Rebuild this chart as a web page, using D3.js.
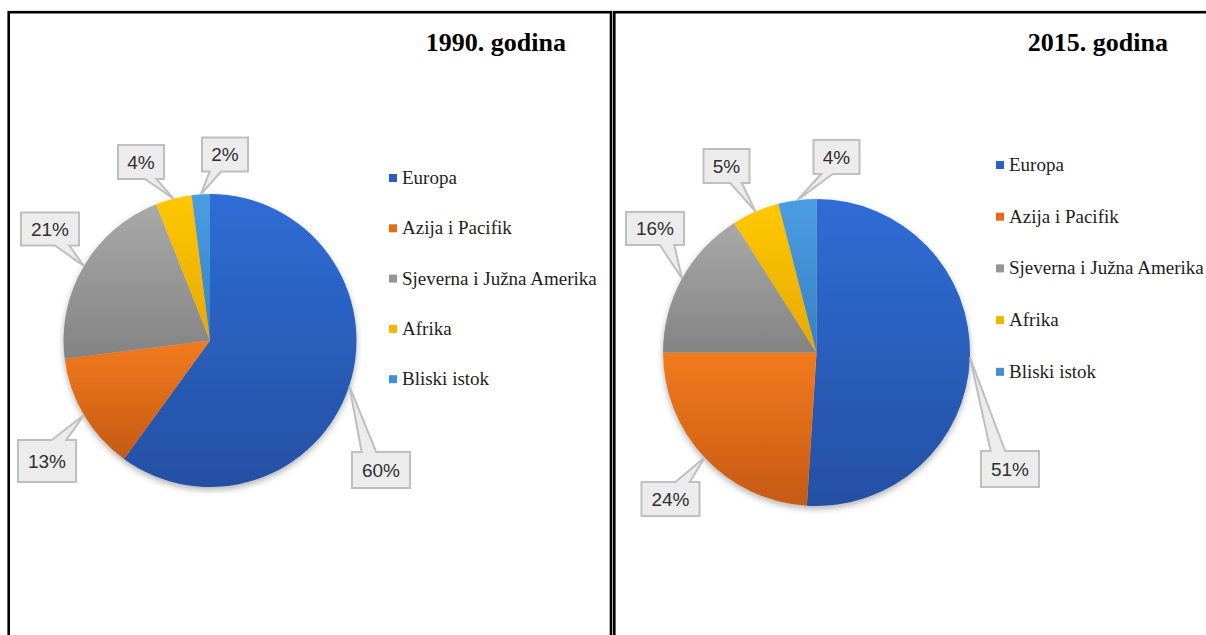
<!DOCTYPE html>
<meta charset="utf-8">
<style>
  body { margin: 0; background: #fff; }
</style>
<body>

<!-- Load d3.js -->
<script src="https://d3js.org/d3.v7.min.js"></script>

<!-- Create a div where the graph will take place -->
<div id="my_dataviz"></div>

<script>

// Data
var categories = ["Europa", "Azija i Pacifik", "Sjeverna i Južna Amerika", "Afrika", "Bliski istok"];
var values1990 = [60, 13, 21, 4, 2];
var values2015 = [51, 24, 16, 5, 4];
var titles = ["1990. godina", "2015. godina"];

// Slice colours: top and bottom of the gradient, plus a flat one for the legend
var colorTop = ["#2f6dd5", "#f27a1f", "#a9a9a9", "#ffc800", "#4a9de3"];
var colorBottom = ["#2450a3", "#c65a12", "#838383", "#e6a800", "#3a80c2"];
var colorFlat = ["#2a5fc0", "#e46c1a", "#969696", "#f2b800", "#4190d6"];

// Layout of the two panels (positions only, no data)
var panels = [
  { values: values1990, title: titles[0], box: [8.7, 12.2, 602.3],
    cx: 210, cy: 340.5, r: 146.5, titleX: 566, titleY: 51,
    legendX: 389, legendY: 178, legendStep: 50.3,
    callouts: [[171, 129.5, 36], [-163, 120.5, 42], [-160, -111.5, 33], [-69, -178.5, 34], [15, -186, 34]] },
  { values: values2015, title: titles[1], box: [614.3, 12.2, 700],
    cx: 816.5, cy: 352.5, r: 153.5, titleX: 1168, titleY: 51,
    legendX: 996, legendY: 165, legendStep: 51.7,
    callouts: [[193.5, 116.5, 36], [-146, 146.5, 34], [-161.5, -124, 33], [-90, -186.5, 34], [20, -195.5, 34]] }
];

var width = 1206, height = 635;

var svg = d3.select("#my_dataviz")
  .append("svg")
    .attr("width", width)
    .attr("height", height);

var defs = svg.append("defs");

// one vertical gradient per colour, it follows each slice's own bounding box
colorTop.forEach(function(c, i) {
  var g = defs.append("linearGradient")
    .attr("id", "grad" + i)
    .attr("x1", 0).attr("y1", 0).attr("x2", 0).attr("y2", 1);
  g.append("stop").attr("offset", "0%").attr("stop-color", c);
  g.append("stop").attr("offset", "100%").attr("stop-color", colorBottom[i]);
});

// soft shadow under the pie
var shadow = defs.append("filter")
  .attr("id", "pieShadow")
  .attr("x", "-20%").attr("y", "-20%").attr("width", "140%").attr("height", "140%");
shadow.append("feDropShadow")
  .attr("dx", 0).attr("dy", 3)
  .attr("stdDeviation", 3)
  .attr("flood-color", "#000")
  .attr("flood-opacity", 0.3);

var pct = d3.format(".0%");

// Builds a rectangle callout with a wedge pointing at (tx, ty), like Excel's data callout
function calloutPath(cx, cy, w, h, tx, ty) {
  var l = cx - w / 2, r = cx + w / 2, t = cy - h / 2, b = cy + h / 2;
  var dx = tx - cx, dy = ty - cy;
  var side;
  if (Math.abs(dy) / h > Math.abs(dx) / w) side = dy < 0 ? "top" : "bottom";
  else side = dx < 0 ? "left" : "right";

  var p = d3.path();
  p.moveTo(l, t);
  if (side == "top") {
    var a = dx < 0 ? l + w * 2 / 12 : l + w * 7 / 12;
    p.lineTo(a, t); p.lineTo(tx, ty); p.lineTo(a + w * 3 / 12, t);
  }
  p.lineTo(r, t);
  if (side == "right") {
    var a = dy < 0 ? t + h * 2 / 12 : t + h * 7 / 12;
    p.lineTo(r, a); p.lineTo(tx, ty); p.lineTo(r, a + h * 3 / 12);
  }
  p.lineTo(r, b);
  if (side == "bottom") {
    var a = dx < 0 ? l + w * 5 / 12 : l + w * 10 / 12;
    p.lineTo(a, b); p.lineTo(tx, ty); p.lineTo(a - w * 3 / 12, b);
  }
  p.lineTo(l, b);
  if (side == "left") {
    var a = dy < 0 ? t + h * 5 / 12 : t + h * 10 / 12;
    p.lineTo(l, a); p.lineTo(tx, ty); p.lineTo(l, a - h * 3 / 12);
  }
  p.closePath();
  return p.toString();
}

panels.forEach(function(P) {

  // panel frame (runs past the bottom and right of the picture)
  svg.append("rect")
    .attr("x", P.box[0])
    .attr("y", P.box[1])
    .attr("width", P.box[2])
    .attr("height", 700)
    .attr("fill", "none")
    .attr("stroke", "#000")
    .attr("stroke-width", 2.6);

  // title
  svg.append("text")
    .attr("x", P.titleX)
    .attr("y", P.titleY)
    .attr("text-anchor", "end")
    .style("font-family", "'Liberation Serif', 'Times New Roman', serif")
    .style("font-weight", "bold")
    .style("font-size", "26px")
    .attr("fill", "#000")
    .text(P.title);

  var total = d3.sum(P.values);
  var pie = d3.pie().sort(null).value(function(d) { return d; });
  var arcs = pie(P.values);
  var arc = d3.arc().innerRadius(0).outerRadius(P.r);

  var g = svg.append("g")
    .attr("transform", "translate(" + P.cx + "," + P.cy + ")");

  // slices
  g.append("g")
    .attr("filter", "url(#pieShadow)")
    .selectAll("path")
    .data(arcs)
    .join("path")
      .attr("d", arc)
      .attr("fill", function(d, i) { return "url(#grad" + i + ")"; });

  // callout labels
  arcs.forEach(function(d, i) {
    var mid = (d.startAngle + d.endAngle) / 2;
    var tx = Math.sin(mid) * P.r, ty = -Math.cos(mid) * P.r;
    var c = P.callouts[i];
    var txt = pct(d.value / total);
    var w = txt.length > 2 ? 58 : 46;
    g.append("path")
      .attr("d", calloutPath(c[0], c[1], w, c[2], tx, ty))
      .attr("fill", "#ececec")
      .attr("stroke", "#bfbfbf")
      .attr("stroke-width", 2)
      .attr("stroke-linejoin", "miter");
    g.append("text")
      .attr("x", c[0])
      .attr("y", c[1] + 6.5)
      .attr("text-anchor", "middle")
      .style("font-family", "'Liberation Sans', Arial, sans-serif")
      .style("font-size", "19px")
      .attr("fill", "#303030")
      .text(txt);
  });

  // legend
  var leg = svg.append("g")
    .selectAll("g")
    .data(categories)
    .join("g")
      .attr("transform", function(d, i) {
        return "translate(" + P.legendX + "," + (P.legendY + i * P.legendStep) + ")";
      });
  leg.append("rect")
    .attr("x", 0).attr("y", -4)
    .attr("width", 8).attr("height", 8)
    .attr("fill", function(d, i) { return colorFlat[i]; });
  leg.append("text")
    .attr("x", 13)
    .attr("y", 6)
    .style("font-family", "'Liberation Serif', 'Times New Roman', serif")
    .style("font-size", "19px")
    .attr("fill", "#1e1e1e")
    .text(function(d) { return d; });
});

</script>
</body>
